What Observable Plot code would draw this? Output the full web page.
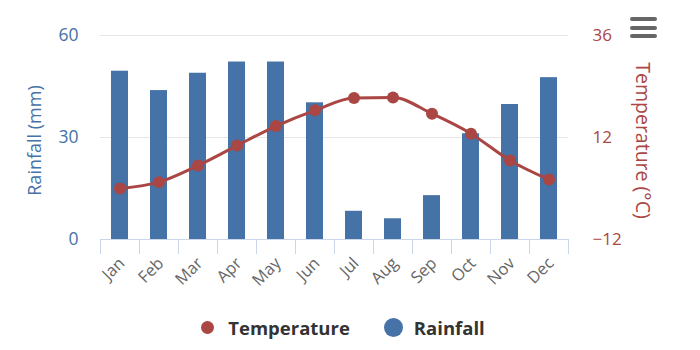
<!DOCTYPE html>
<html><head><meta charset="utf-8">
<script src="https://cdn.jsdelivr.net/npm/d3@7"></script>
<script src="https://cdn.jsdelivr.net/npm/@observablehq/plot@0.6"></script>
<style>
body{margin:0;background:#fff;font-family:"Open Sans",sans-serif}
#wrap{position:relative;width:700px;height:350px;overflow:hidden}
#wrap > svg{position:absolute;left:0;top:0}
#menu{position:absolute;left:630px;top:17px;width:27px}
#menu div{height:4px;background:#666;border-radius:2px;margin-bottom:4.5px}
#legend{position:absolute;left:-7px;top:315px;width:700px;display:flex;justify-content:center;align-items:center;font-weight:bold;font-size:18.5px;color:#333}
.item{display:flex;align-items:center}
.sw{border-radius:50%;display:inline-block}
</style></head><body><div id="wrap"></div>
<script>
const months = ["Jan","Feb","Mar","Apr","May","Jun","Jul","Aug","Sep","Oct","Nov","Dec"];
const rainfall = [49.5, 43.8, 48.9, 52.2, 52.2, 40.2, 8.3, 6.1, 12.9, 31.1, 39.7, 47.6];
const temperature = [0.0, 1.5, 5.4, 10.1, 14.7, 18.4, 21.3, 21.4, 17.6, 12.9, 6.6, 2.1];
const rainTicks = [0, 30, 60];
const tempTicks = [-12, 12, 36];
const rainColor = "#4572A7", tempColor = "#AA4643";

const rainData = months.map((m, i) => ({month: m, value: rainfall[i]}));
const tempData = months.map((m, i) => ({month: m, value: temperature[i]}));

const common = {
  width: 700, height: 300,
  marginTop: 35, marginRight: 132, marginBottom: 61, marginLeft: 100,
  style: {fontFamily: "Open Sans", background: "transparent", overflow: "visible"},
  x: {type: "band", domain: months, padding: 0}
};
const bw = (700 - 100 - 132) / 12;

const p1 = Plot.plot({
  ...common,
  y: {domain: [0, 60]},
  marks: [
    Plot.gridY(rainTicks.filter(d => d > 0), {stroke: "#e6e6e6", strokeOpacity: 1}),
    Plot.barY(rainData, {x: "month", y: "value", fill: rainColor, insetLeft: 11, insetRight: 11}),
    Plot.ruleY([0], {stroke: "#ccd6eb", strokeWidth: 1}),
    Plot.axisX({tickSize: 15, tickFormat: () => "", stroke: "#ccd6eb", strokeOpacity: 1, dx: -bw / 2, label: null}),
    Plot.axisX({ticks: ["Dec"], tickSize: 15, tickFormat: () => "", stroke: "#ccd6eb", strokeOpacity: 1, dx: bw / 2, label: null}),
    Plot.axisX({tickSize: 0, tickPadding: 21, tickRotate: -45, fill: "#666", fontSize: 16.5, dx: 2, label: null}),
    Plot.axisY({ticks: rainTicks, tickSize: 0, tickPadding: 22, fill: rainColor, fontSize: 17.5, label: null}),
    Plot.text(["Rainfall (mm)"], {frameAnchor: "left", textAnchor: "middle", rotate: -90, dx: -65, dy: 3, fill: rainColor, fontSize: 18})
  ]
});

const p2 = Plot.plot({
  ...common,
  x: {...common.x, axis: null},
  y: {domain: [-12, 36]},
  marks: [
    Plot.line(tempData, {x: "month", y: "value", stroke: tempColor, strokeWidth: 3, curve: "monotone-x"}),
    Plot.dot(tempData, {x: "month", y: "value", fill: tempColor, r: 6}),
    Plot.axisY({anchor: "right", ticks: tempTicks, tickSize: 0, tickPadding: 24, fill: tempColor, fontSize: 17, label: null, tickFormat: d => d < 0 ? "\u2212" + Math.abs(d) : String(d)}),
    Plot.text(["Temperature (°C)"], {frameAnchor: "right", textAnchor: "middle", rotate: 90, dx: 74, dy: 3, fill: tempColor, fontSize: 19.5})
  ]
});

const wrap = document.getElementById("wrap");
wrap.appendChild(p1);
wrap.appendChild(p2);
const menu = document.createElement("div");
menu.id = "menu";
menu.innerHTML = "<div></div><div></div><div></div>";
wrap.appendChild(menu);
const legend = document.createElement("div");
legend.id = "legend";
legend.innerHTML =
  `<span class="item"><span class="sw" style="width:13px;height:13px;background:${tempColor};margin-right:14px"></span>Temperature</span>` +
  `<span class="item" style="margin-left:34px"><span class="sw" style="width:19px;height:19px;background:${rainColor};margin-right:11px"></span>Rainfall</span>`;
wrap.appendChild(legend);
</script>
</body></html>
